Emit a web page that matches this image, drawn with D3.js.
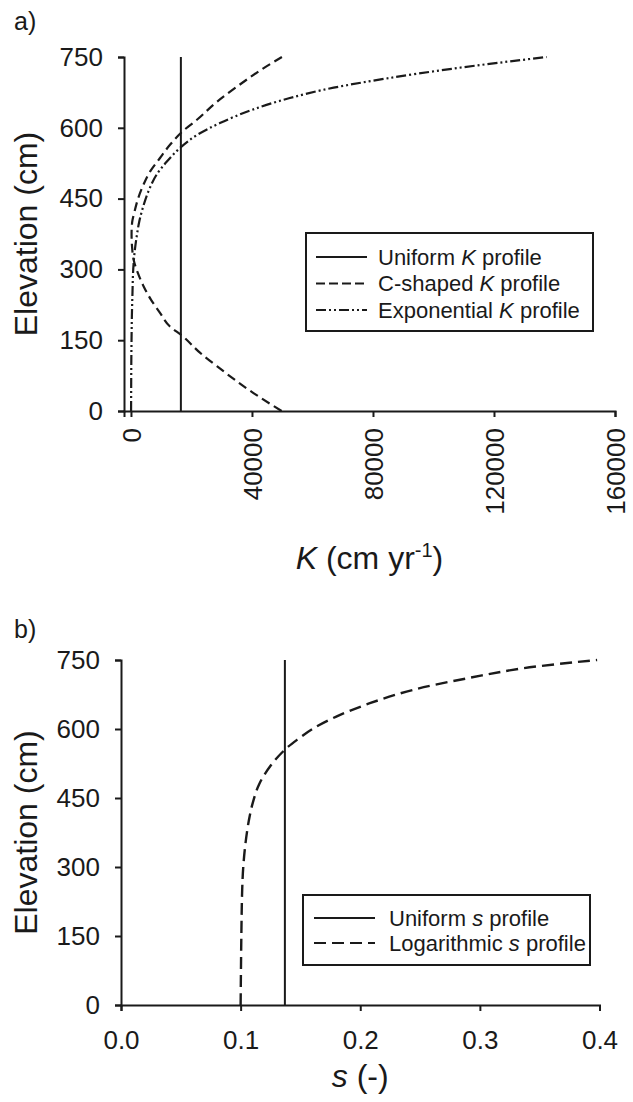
<!DOCTYPE html>
<html>
<head>
<meta charset="utf-8">
<script src="https://cdn.jsdelivr.net/npm/d3@7"></script>
<style>
	body { margin: 0; background: #fff; }
	svg text { font-family: "Liberation Sans", Arial, sans-serif; fill: #1a1a1a; }
</style>
</head>
<body>
<svg id="chart" width="633" height="1102"></svg>
<script>
	//Data------------------------------------------------------------------
	var elevTicks = [0, 150, 300, 450, 600, 750];
	var kTicks = [0, 40000, 80000, 120000, 160000];
	var sTicks = [0, 0.1, 0.2, 0.3, 0.4];

	var uniformK = 16500;
	var cShapeElev = [0, 38, 95, 123, 160, 179, 208, 236, 264, 292, 320, 349, 375, 400, 423, 451, 479, 507, 536, 564, 591, 617, 655, 687, 722, 750];
	var cShapeK = [49800, 40500, 28400, 22900, 16800, 12900, 9600, 6600, 4200, 2300, 900, 350, 200, 400, 1200, 2400, 4100, 6300, 9600, 12900, 16800, 21800, 28400, 35000, 42800, 49900];
	var expElev = [0, 50, 100, 150, 200, 250, 300, 330, 370, 400, 430, 472, 500, 528, 560, 585, 610, 638, 663, 685, 704, 725, 750];
	var expK = [40, 70, 110, 190, 300, 500, 750, 1100, 1900, 2700, 3900, 6200, 8400, 11800, 16700, 21900, 29400, 40000, 52500, 67000, 84000, 106000, 137400];

	var uniformS = 0.137;
	var logSElev = [0, 150, 250, 300, 350, 400, 440, 480, 520, 555, 580, 600, 627, 656, 685, 710, 732, 750];
	var logS = [0.1000, 0.1006, 0.1013, 0.1022, 0.1040, 0.1068, 0.1102, 0.1155, 0.1250, 0.137, 0.149, 0.160, 0.180, 0.208, 0.244, 0.289, 0.336, 0.398];

	var legendA = [
		{ pre: 'Uniform ', post: ' profile', dash: null },
		{ pre: 'C-shaped ', post: ' profile', dash: '9,4' },
		{ pre: 'Exponential ', post: ' profile', dash: '10,3,2,3,2,3' }
	];
	var legendB = [
		{ pre: 'Uniform ', post: ' profile', dash: null },
		{ pre: 'Logarithmic ', post: ' profile', dash: '12,6' }
	];

	var INK = '#1a1a1a';
	var svg = d3.select('#chart');

	//helpers----------------------------------------------------------------
	function pairs(xs, ys) {
		return xs.map(function (d, i) { return [ys[i], d]; });
	}

	function styleAxis(g) {
		g.select('.domain').attr('stroke', INK).attr('stroke-width', 2);
		g.selectAll('.tick line').attr('stroke', INK).attr('stroke-width', 2);
		g.selectAll('.tick text').attr('fill', INK).style('font-size', '26px');
	}

	function drawCurve(g, pts, x, y, dash, width, curve) {
		var line = d3.line()
			.x(function (d) { return x(d[0]); })
			.y(function (d) { return y(d[1]); })
			.curve(curve || d3.curveMonotoneY);
		g.append('path')
			.attr('d', line(pts))
			.attr('fill', 'none')
			.attr('stroke', INK)
			.attr('stroke-width', width || 2)
			.attr('stroke-dasharray', dash);
	}

	function drawLegend(box, items, sym, lx0, lx1, tx, y0, dy) {
		svg.append('rect')
			.attr('x', box[0]).attr('y', box[1])
			.attr('width', box[2] - box[0]).attr('height', box[3] - box[1])
			.attr('fill', '#fff').attr('stroke', INK).attr('stroke-width', 2);
		items.forEach(function (it, i) {
			var yy = y0 + i * dy;
			svg.append('line')
				.attr('x1', lx0).attr('x2', lx1).attr('y1', yy).attr('y2', yy)
				.attr('stroke', INK).attr('stroke-width', 2)
				.attr('stroke-dasharray', it.dash);
			var t = svg.append('text')
				.attr('x', tx).attr('y', yy).attr('dy', '0.36em')
				.style('font-size', '22px');
			t.append('tspan').text(it.pre);
			t.append('tspan').style('font-style', 'italic').text(sym);
			t.append('tspan').text(it.post);
		});
	}

	//Panel a----------------------------------------------------------------
	var xa = d3.scaleLinear().domain([-2300, 160000]).range([124, 615]);
	var ya = d3.scaleLinear().domain([0, 750]).range([411, 57]);

	svg.append('text').attr('x', 14).attr('y', 30)
		.style('font-size', '25px').text('a)');

	var gxa = svg.append('g').attr('transform', 'translate(0,' + ya(0) + ')')
		.call(d3.axisBottom(xa).tickValues(kTicks).tickSizeOuter(0).tickSize(6)
			.tickFormat(d3.format('d')));
	styleAxis(gxa);
	gxa.selectAll('.tick text')
		.attr('transform', 'rotate(-90)')
		.attr('text-anchor', 'end')
		.attr('x', -17).attr('y', 0).attr('dy', '0.36em');

	var gya = svg.append('g').attr('transform', 'translate(' + xa.range()[0] + ',0)')
		.call(d3.axisLeft(ya).tickValues(elevTicks).tickSizeOuter(0).tickSize(6).tickPadding(15));
	styleAxis(gya);

	var plotA = svg.append('g');
	drawCurve(plotA, [[uniformK, 0], [uniformK, 750]], xa, ya, null, 2);
	drawCurve(plotA, pairs(cShapeElev, cShapeK), xa, ya, '9,5', 2.2);
	drawCurve(plotA, pairs(expElev, expK), xa, ya, '10,3,2,3,2,3', 2.2);

	svg.append('text')
		.attr('transform', 'translate(37,' + ((ya(0) + ya(750)) / 2) + ') rotate(-90)')
		.attr('text-anchor', 'middle').style('font-size', '32px')
		.text('Elevation (cm)');

	var ka = svg.append('text')
		.attr('x', (xa.range()[0] + xa.range()[1]) / 2).attr('y', 569)
		.attr('text-anchor', 'middle').style('font-size', '32px');
	ka.append('tspan').style('font-style', 'italic').text('K');
	ka.append('tspan').text(' (cm yr');
	ka.append('tspan').attr('dy', -12).style('font-size', '20px').text('-1');
	ka.append('tspan').attr('dy', 12).text(')');

	drawLegend([306, 233, 593, 331], legendA, 'K', 316, 367, 378, 257, 26.5);

	//Panel b----------------------------------------------------------------
	var xb = d3.scaleLinear().domain([0, 0.4]).range([121, 599.5]);
	var yb = d3.scaleLinear().domain([0, 750]).range([1005, 660]);

	svg.append('text').attr('x', 14).attr('y', 638)
		.style('font-size', '25px').text('b)');

	var gxb = svg.append('g').attr('transform', 'translate(0,' + yb(0) + ')')
		.call(d3.axisBottom(xb).tickValues(sTicks).tickSizeOuter(0).tickSize(6).tickPadding(20)
			.tickFormat(d3.format('.1f')));
	styleAxis(gxb);

	var gyb = svg.append('g').attr('transform', 'translate(' + xb.range()[0] + ',0)')
		.call(d3.axisLeft(yb).tickValues(elevTicks).tickSizeOuter(0).tickSize(6).tickPadding(15));
	styleAxis(gyb);

	var plotB = svg.append('g');
	drawCurve(plotB, [[uniformS, 0], [uniformS, 750]], xb, yb, null, 2);
	drawCurve(plotB, pairs(logSElev, logS), xb, yb, '12,6', 2.4, d3.curveCatmullRom);

	svg.append('text')
		.attr('transform', 'translate(37,' + ((yb(0) + yb(750)) / 2) + ') rotate(-90)')
		.attr('text-anchor', 'middle').style('font-size', '32px')
		.text('Elevation (cm)');

	var sb = svg.append('text')
		.attr('x', (xb.range()[0] + xb.range()[1]) / 2).attr('y', 1087)
		.attr('text-anchor', 'middle').style('font-size', '32px');
	sb.append('tspan').style('font-style', 'italic').text('s');
	sb.append('tspan').text(' (-)');

	drawLegend([303, 895, 590, 965], legendB, 's', 314, 375, 389, 918, 25);
</script>
</body>
</html>
